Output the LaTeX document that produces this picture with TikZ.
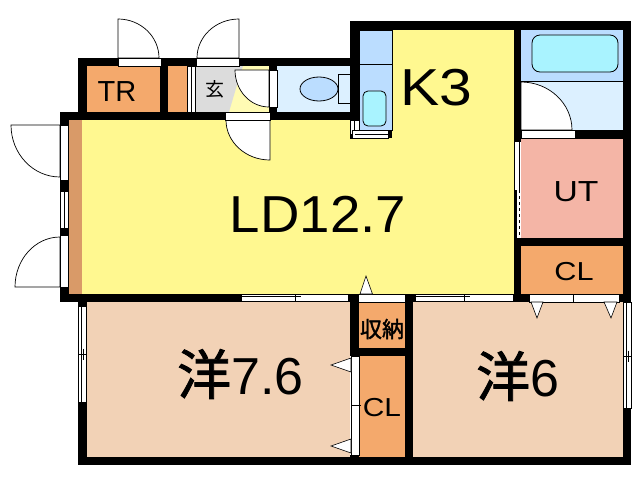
\documentclass[tikz,border=0pt]{standalone}
\usepackage{fontspec}
\setmainfont{Liberation Sans}
\newfontfamily\cjk{Noto Sans CJK JP}
\newfontfamily\cjkheavy[FakeBold=1.6]{Noto Sans CJK JP}
\begin{document}
\begin{tikzpicture}[x=1pt,y=-1pt,
wall/.style={fill=black},
sash/.style={draw=black, fill=white, line width=0.8pt},
leaf/.style={draw=black, fill=white, line width=0.7pt},
fitting/.style={draw=black, line width=0.8pt},
stopper/.style={draw=black, fill=white, line width=0.6pt},
muntin/.style={line width=0.7pt},
label/.style={inner sep=0pt, text=black},
]
\useasboundingbox (0,0) rectangle (640,480);
\definecolor{livingyellow}{HTML}{FFF890}
\definecolor{paleyellow}{HTML}{FFFBB4}
\definecolor{closetorange}{HTML}{F4A96C}
\definecolor{woodbrown}{HTML}{D99A68}
\definecolor{roombeige}{HTML}{F2D2B6}
\definecolor{utilpink}{HTML}{F4B5A6}
\definecolor{wetpale}{HTML}{DCF0FF}
\definecolor{wetblue}{HTML}{BBDDFF}
\definecolor{basincyan}{HTML}{A9F3FF}
\definecolor{entrygray}{HTML}{DCDCDC}

%Floors
\fill[livingyellow] (82,120) -- (392,120) -- (392,30) -- (514,30) -- (514,294) -- (82,294) -- cycle;
\fill[woodbrown] (69,120) rectangle (82,294);
\fill[closetorange] (87,66) rectangle (160,112);
\fill[closetorange] (168,66) rectangle (187,112);
\fill[paleyellow] (195,66) rectangle (270,112);
\fill[entrygray] (195,66) -- (243,66) -- (237,85) -- (229,112) -- (195,112) -- cycle;
\fill[wetpale] (277,66) rectangle (350,112);
\fill[wetpale] (521,30) rectangle (623,130);
\fill[wetblue] (521,30) rectangle (623,81);
\fill[utilpink] (521,139) rectangle (623,238);
\fill[closetorange] (521,246) rectangle (623,294);
\fill[roombeige] (87,302) rectangle (350,457);
\fill[roombeige] (413,302) rectangle (623,457);
\fill[closetorange] (359,302) rectangle (405,348);
\fill[closetorange] (359,356) rectangle (405,457);

%Walls
\fill[wall] (350,21) rectangle (631,30);
\fill[wall] (350,21) rectangle (359,120);
\fill[wall] (514,21) rectangle (521,142);
\fill[wall] (623,21) rectangle (631,465);
\fill[wall] (575,130) rectangle (623,139);
\fill[wall] (514,238) rectangle (623,246);
\fill[wall] (514,238) rectangle (521,302);
\fill[wall] (78,58) rectangle (350,66);
\fill[wall] (78,58) rectangle (87,112);
\fill[wall] (160,58) rectangle (168,112);
\fill[wall] (269,66) rectangle (277,70);
\fill[wall] (269,107) rectangle (277,112);
\fill[wall] (60,112) rectangle (359,120);
\fill[wall] (60,112) rectangle (69,125);
\fill[wall] (60,180) rectangle (69,191);
\fill[wall] (60,228) rectangle (69,235);
\fill[wall] (60,287) rectangle (69,302);
\fill[wall] (60,294) rectangle (241,302);
\fill[wall] (78,302) rectangle (87,306);
\fill[wall] (78,402) rectangle (87,465);
\fill[wall] (78,457) rectangle (631,465);
\fill[wall] (348,294) rectangle (358,302);
\fill[wall] (405,294) rectangle (415,302);
\fill[wall] (350,302) rectangle (359,356);
\fill[wall] (350,348) rectangle (413,356);
\fill[wall] (405,302) rectangle (413,457);
\fill[wall] (350,455) rectangle (359,457);
\fill[wall] (513,294) rectangle (529,302);
\fill[wall] (619,294) rectangle (631,302);
\fill[wall] (623,408) rectangle (631,465);

%Door leaves
\filldraw[leaf] (118,58) -- (118,19) arc[start angle=-90, end angle=0, x radius=41, y radius=39] -- cycle;
\filldraw[leaf] (239,58) -- (239,19) arc[start angle=-90, end angle=-180, x radius=42, y radius=39] -- cycle;
\filldraw[leaf] (269,70) -- (269,107) arc[start angle=90, end angle=180, x radius=34, y radius=37] -- cycle;
\filldraw[leaf] (270,120) -- (270,160) arc[start angle=90, end angle=180, x radius=44, y radius=40] -- cycle;
\filldraw[leaf] (60,125) -- (11,125) arc[start angle=180, end angle=90, x radius=49, y radius=52] -- cycle;
\filldraw[leaf] (60,287) -- (15,287) arc[start angle=180, end angle=270, x radius=45, y radius=50] -- cycle;
\filldraw[leaf] (521,130) -- (521,82) arc[start angle=-90, end angle=0, x radius=51, y radius=48] -- cycle;

%Door and window openings
\foreach \xa/\ya/\wd in {118/58/43,196/58/43,225/112/45,521/130/54}
  \filldraw[sash] (\xa,\ya) rectangle ++(\wd,8);
\filldraw[sash] (269,70) rectangle (277,107);
\foreach \xa/\xb/\xm in {241/348/295,415/513/464}{
  \filldraw[sash] (\xa,294) rectangle (\xb,301.5);
  \draw[muntin] (\xa,296.7) -- (\xm+6,296.7);
  \draw[muntin] (\xm,295) -- (\xm,301.5);
}
\foreach \ya/\yb in {125/180,235/287}
  \filldraw[sash] (60.4,\ya) rectangle (68.6,\yb);
\filldraw[sash] (60.4,191) rectangle (68.6,228);
\draw[muntin] (64,191) -- (64,228);
\foreach \xa/\ya/\yb/\ym in {78/306/402/354,623/302/408/356}{
  \filldraw[sash] (\xa+0.4,\ya) rectangle (\xa+8,\yb);
  \draw[muntin] (\xa+3.4,\ya) -- (\xa+3.4,\yb);
  \draw[muntin] (\xa,\ym) -- (\xa+8.5,\ym);
  \draw[muntin] (\xa+5.2,\ym-5.5) -- (\xa+5.2,\ym+5.5);
}
\filldraw[sash] (187.4,66) rectangle (195,112);
\draw[muntin, line width=1pt] (191,66) -- (191,112);
\fill[white] (514,142) rectangle (521,238);
\fill[wall] (514,142) rectangle (515,190);
\fill[wall] (514,190) rectangle (517,238);
\draw[muntin, line width=1.2pt] (519.5,142) -- (519.5,190);
\draw[muntin, line width=1.2pt, dash pattern=on 3pt off 3pt] (519.5,190) -- (519.5,238);
\filldraw[sash] (358,294) rectangle (405,302);
\filldraw[sash] (529,294) rectangle (619,302);
\draw[muntin] (573,294) -- (573,302);
\filldraw[sash] (351,356) rectangle (359,455);
\draw[muntin] (351,405) -- (361,405);

%Kitchen counter
\filldraw[fitting, fill=wetblue] (359,30) rectangle (392,130);
\draw[fitting] (359,64) -- (392,64);
\filldraw[fitting, fill=basincyan, rounded corners=5pt] (363,91) rectangle (386,126);
\filldraw[sash] (350.4,120) rectangle (359,138);
\draw[muntin] (354,120) -- (354,134);
\filldraw[sash] (352,130) rectangle (388,138);
\draw[muntin] (355,134) -- (388,134);
\fill[wall] (388,130) rectangle (392,138);
\fill[wall] (350,134) rectangle (352,138);

%Bath and toilet
\draw[fitting] (521,81) -- (623,81);
\filldraw[fitting, fill=basincyan, rounded corners=8pt] (532,35) rectangle (618,72);
\filldraw[fitting, fill=wetblue] (319,89) ellipse[x radius=19, y radius=12];
\filldraw[fitting, fill=wetpale] (338,74) rectangle (350,103);

%Door stoppers
\filldraw[stopper] (360,294) -- (366,276) -- (372.5,294) -- cycle;
\filldraw[stopper] (531,302) -- (537,318) -- (543,302) -- cycle;
\filldraw[stopper] (604,302) -- (611,318) -- (617,302) -- cycle;
\filldraw[stopper] (351,358) -- (331,365) -- (351,372) -- cycle;
\filldraw[stopper] (351,439) -- (331,446) -- (351,453) -- cycle;

%Labels
\node[label, font=\fontsize{29}{29}\selectfont] (tr) at (117,92) {TR};
\node[label, font=\cjk\fontsize{19}{19}\selectfont] (genkan) at (215,89) {玄};
\node[label, font=\fontsize{52}{52}\selectfont] (kitchen) at (436,88) {\scalebox{1.13}[1]{K3}};
\node[label, font=\fontsize{52}{52}\selectfont] (living) at (318,214) {\scalebox{1.05}[1]{LD12.7}};
\node[label, font=\fontsize{29}{29}\selectfont] (ut) at (576,192) {\scalebox{1.16}[1]{UT}};
\node[label, font=\fontsize{26}{26}\selectfont] (clset) at (574,272) {\scalebox{1.18}[1]{CL}};
\node[label, font=\fontsize{26}{26}\selectfont] (clwest) at (382,408) {\scalebox{1.15}[1]{CL}};
\node[label, font=\cjkheavy\fontsize{22}{22}\selectfont] (storage) at (382,329) {収納};
\node[label, anchor=west, font=\fontsize{52}{52}\selectfont] (west) at (177,374) {{\cjkheavy\fontsize{54}{54}\selectfont 洋}7.6};
\node[label, anchor=west, font=\fontsize{52}{52}\selectfont] (east) at (476,376) {{\cjkheavy\fontsize{54}{54}\selectfont 洋}6};
\end{tikzpicture}
\end{document}
